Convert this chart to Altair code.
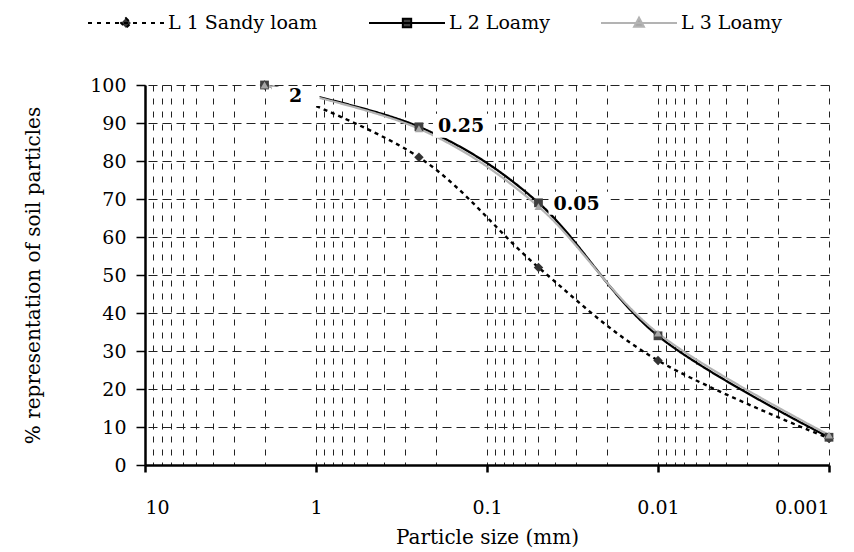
import altair as alt
import pandas as pd

# ---- data ----
sizes = [2, 0.25, 0.05, 0.01, 0.001]
series = ["L 1 Sandy loam", "L 2 Loamy", "L 3 Loamy"]
l1_values = [100, 81, 52, 27.5, 7]
l2_values = [100, 89, 69, 34, 7.3]
l3_values = [100, 88.5, 68, 34.7, 7.9]

label_texts = ["2", "0.25", "0.05"]
label_sizes = [2, 0.25, 0.05]
label_values = [100, 89, 69]

major_ticks = [10, 1, 0.1, 0.01, 0.001]
y_ticks = list(range(0, 101, 10))

# grid lines at every log step
grid_values = list(major_ticks)
for k in range(-3, 1):
    for m in range(2, 10):
        grid_values.append(round(m * 10 ** k, 6))

rows = []
for name, vals in zip(series, [l1_values, l2_values, l3_values]):
    for s, v in zip(sizes, vals):
        rows.append({"series": name, "size": s, "value": v})
df = pd.DataFrame(rows)

FONT = "DejaVu Serif"
major_list = "[" + ",".join(str(v) for v in major_ticks) + "]"
major_test = f"indexof({major_list}, datum.value) >= 0"

x_axis = alt.Axis(
    values=grid_values,
    labelExpr=f"{major_test} ? format(datum.value, '~g') : ''",
    labelOverlap=False,
    labelFont=FONT, labelFontSize=19, labelColor="black", labelPadding=26,
    tickSize=7, tickWidth=2.5, tickColor="black",
    tickOpacity={"condition": {"test": major_test, "value": 1}, "value": 0},
    domainColor="black", domainWidth=2.5,
    grid=True, gridColor="#222", gridWidth=1, gridDash=[6, 7],
    title="Particle size (mm)", titleFont=FONT, titleFontSize=20,
    titleFontWeight="normal", titleColor="black", titlePadding=10,
)
y_axis = alt.Axis(
    values=y_ticks,
    labelOverlap=False,
    labelFont=FONT, labelFontSize=19, labelColor="black", labelPadding=10,
    tickSize=9, tickWidth=1.5, tickColor="black",
    domainColor="black", domainWidth=2.5,
    grid=True, gridColor="#222", gridWidth=1, gridDash=[9, 5],
    title="% representation of soil particles", titleFont=FONT,
    titleFontSize=20, titleFontWeight="normal", titleColor="black",
    titlePadding=46,
)
x_scale = alt.Scale(type="log", domain=[0.001, 10], reverse=True, nice=False)
y_scale = alt.Scale(domain=[0, 100], nice=False)


def X():
    return alt.X("size:Q", scale=x_scale, axis=x_axis)


def Y():
    return alt.Y("value:Q", scale=y_scale, axis=y_axis)


base = alt.Chart(df)

lines = base.mark_line(interpolate="cardinal").encode(
    x=X(),
    y=Y(),
    stroke=alt.Stroke("series:N", scale=alt.Scale(domain=series, range=["#000000", "#000000", "#b3b3b3"]), legend=None),
    strokeDash=alt.StrokeDash("series:N", scale=alt.Scale(domain=series, range=[[4, 4], [1, 0], [1, 0]]), legend=None),
    strokeWidth=alt.StrokeWidth("series:N", scale=alt.Scale(domain=series, range=[2.4, 2.2, 3]), legend=None),
    detail="series:N",
)

points = base.mark_point(filled=True, opacity=1).encode(
    x=X(),
    y=Y(),
    fill=alt.Fill("series:N", scale=alt.Scale(domain=series, range=["#333333", "#404040", "#a6a6a6"]), legend=None),
    shape=alt.Shape("series:N", scale=alt.Scale(domain=series, range=["diamond", "square", "triangle-up"]), legend=None),
    size=alt.Size("series:N", scale=alt.Scale(domain=series, range=[90, 64, 150]), legend=None),
)


def data_label(i, dx, dy, align, box):
    ldf = pd.DataFrame({"size": [label_sizes[i]], "value": [label_values[i]], "text": [label_texts[i]]})
    b = alt.Chart(ldf)
    rect = b.mark_rect(color="white", xOffset=box[0], x2Offset=box[1], yOffset=box[2], y2Offset=box[3]).encode(
        x=X(), x2="size", y=Y(), y2="value"
    )
    txt = b.mark_text(dx=dx, dy=dy, align=align, baseline="middle", font=FONT,
                      fontWeight="bold", fontSize=19, color="black").encode(
        x=X(), y=Y(), text="text:N"
    )
    return [rect, txt]


label_layers = []
label_layers += data_label(0, 31, 11, "center", (7, 55, 2, 21))
label_layers += data_label(1, 19, -1, "left", (14, 76, -13, 11))
label_layers += data_label(2, 15, 1, "left", (10, 72, -11, 12))

legend_paths = [
    "M-1,0H1M0,-0.13L0.13,0L0,0.13L-0.13,0Z",
    "M-1,0H1M-0.11,-0.11H0.11V0.11H-0.11Z",
    "M-1,0H1M0,-0.14L0.13,0.1L-0.13,0.1Z",
]
leg = alt.Legend(
    orient="none", legendX=-58, legendY=-101, direction="horizontal", title=None,
    symbolSize=5776, symbolStrokeWidth=2, symbolOpacity=1,
    labelFont=FONT, labelFontSize=19, labelColor="black", labelOffset=3,
    columnPadding=47, padding=0,
)
legend_layer = base.transform_filter("false").mark_point(opacity=1, strokeWidth=2).encode(
    x=X(),
    y=Y(),
    shape=alt.Shape("series:N", scale=alt.Scale(domain=series, range=legend_paths), legend=leg),
    fill=alt.Fill("series:N", scale=alt.Scale(domain=series, range=["#333333", "#404040", "#a6a6a6"]), legend=leg),
    stroke=alt.Stroke("series:N", scale=alt.Scale(domain=series, range=["#000000", "#000000", "#b3b3b3"]), legend=leg),
    strokeDash=alt.StrokeDash("series:N", scale=alt.Scale(domain=series, range=[[4, 5], [1, 0], [1, 0]]), legend=leg),
)

chart = alt.layer(lines, points, *label_layers, legend_layer).resolve_scale(
    stroke="independent", fill="independent", shape="independent",
    strokeDash="independent", strokeWidth="independent", size="independent",
).properties(
    width=684, height=380,
    autosize=alt.AutoSizeParams(type="none"),
    padding={"left": 137, "top": 77, "right": 17, "bottom": 87},
    background="white",
).configure(font=FONT).configure_view(stroke=None)

chart.save("out.html", embed_options={"renderer": "svg", "actions": False})
